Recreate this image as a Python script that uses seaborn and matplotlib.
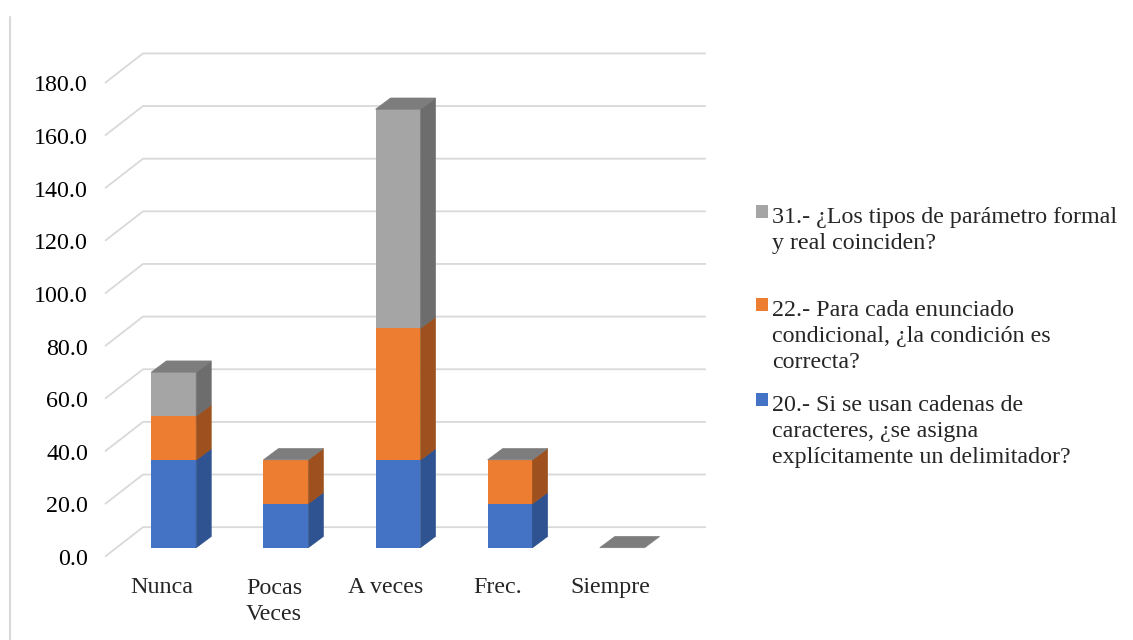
import numpy as np
import pandas as pd
import matplotlib
matplotlib.use("Agg")
import matplotlib.pyplot as plt
from matplotlib.patches import Polygon, Rectangle
from matplotlib.lines import Line2D
import seaborn as sns

# ---- data -------------------------------------------------------------
categories = ["Nunca", "Pocas\nVeces", "A veces", "Frec.", "Siempre"]
q20 = [33.3, 16.7, 33.3, 16.7, 0.0]
q22 = [16.7, 16.7, 50.0, 16.7, 0.0]
q31 = [16.7, 0.0, 83.3, 0.0, 0.0]
series_labels = [
    "20.- Si se usan cadenas de\ncaracteres, ¿se asigna\nexplícitamente un delimitador?",
    "22.- Para cada enunciado\ncondicional, ¿la condición es\ncorrecta?",
    "31.- ¿Los tipos de parámetro formal\ny real coinciden?",
]
y_ticks = np.arange(0, 181, 20)

# ---- style ------------------------------------------------------------
sns.set_style("white")
plt.rcParams["font.family"] = ["Liberation Serif", "DejaVu Serif"]
FS = 17.3
LINE_GAP = 26.5            # px between text lines
LS = 1.31

front_colors = ["#4472C4", "#ED7D31", "#A5A5A5"]
side_colors = ["#2E5390", "#9E511E", "#6D6D6D"]
top_color = "#7D7D7D"
grid_color = "#D9D9D9"

W, H = 1133, 640
fig = plt.figure(figsize=(W / 100, H / 100), dpi=100, facecolor="white")
ax = fig.add_axes([0, 0, 1, 1])

# pixel -> data mapping for the plot area
X0, XS = 173.8, 112.1      # px of first category, px per category
Y0, YS = 547.7, 2.632      # px of value 0, px per unit


def xd(px):
    return (px - X0) / XS


def yd(py):
    return (Y0 - py) / YS


def last_baseline(first_px, text):
    # baseline alignment of multi-line text refers to the last line
    return first_px + (text.count("\n")) * LINE_GAP


BAR_W = 0.40
DX = 15.0 / XS
DY = 11.2 / YS

# ---- floor / back-wall gridlines ----------------------------------------
x_front, x_back, x_right = xd(105), xd(143), xd(706)
y_front, y_back = -3.4, 7.8
for v in y_ticks:
    ax.plot([x_front, x_back, x_right], [v + y_front, v + y_back, v + y_back],
            color=grid_color, lw=1.3, zorder=1, solid_capstyle="butt")
    ax.text(xd(88), v - 6.6, f"{v:.1f}", ha="right", va="baseline",
            fontsize=FS, color="black")

# ---- stacked bars (front faces) ----------------------------------------
df = pd.DataFrame({"cat": categories, "q20": q20, "q22": q22, "q31": q31})
c1 = df["q20"].to_numpy()
c2 = c1 + df["q22"].to_numpy()
c3 = c2 + df["q31"].to_numpy()
cums = [c1, c2, c3]
bottoms = [np.zeros_like(c1), c1, c2]

for cum, col in reversed(list(zip(cums, front_colors))):
    sns.barplot(x=df["cat"], y=cum, color=col, width=BAR_W, saturation=1,
                errorbar=None, ax=ax, zorder=3, linewidth=0)

# ---- side and top faces -------------------------------------------------
for i in range(len(categories)):
    xr = i + BAR_W / 2
    xl = i - BAR_W / 2
    for s in range(3):
        y0, y1 = bottoms[s][i], cums[s][i]
        if y1 > y0:
            poly = Polygon([(xr, y0), (xr + DX, y0 + DY), (xr + DX, y1 + DY), (xr, y1)],
                           closed=True, facecolor=side_colors[s],
                           edgecolor=side_colors[s], lw=0.5, zorder=3)
            ax.add_patch(poly)
    top = c3[i]
    poly = Polygon([(xl, top), (xl + DX, top + DY), (xr + DX, top + DY), (xr, top)],
                   closed=True, facecolor=top_color, edgecolor=top_color,
                   lw=0.5, zorder=4)
    ax.add_patch(poly)

# ---- category labels -----------------------------------------------------
for i, cat in enumerate(categories):
    ax.text(i - 12 / XS, yd(last_baseline(593, cat)), cat, ha="center",
            va="baseline", fontsize=FS, linespacing=LS, multialignment="left")

ax.set_xlim(xd(0), xd(W))
ax.set_ylim(yd(H), yd(0))
ax.axis("off")

# ---- legend --------------------------------------------------------------
legend_rows = [
    (series_labels[2], front_colors[2], 222),
    (series_labels[1], front_colors[1], 315),
    (series_labels[0], front_colors[0], 410),
]
for label, col, base in legend_rows:
    sq_top = base - 17
    fig.add_artist(Rectangle((755.5 / W, 1 - (sq_top + 12.5) / H), 12.5 / W, 12.5 / H,
                             transform=fig.transFigure, facecolor=col,
                             edgecolor="none"))
    fig.text(772 / W, 1 - last_baseline(base, label) / H, label, ha="left",
             va="baseline", fontsize=FS, linespacing=LS)

# left border line
fig.add_artist(Line2D([10.5 / W, 10.5 / W], [0, 1 - 17 / H],
                      transform=fig.transFigure, color=grid_color, lw=1.5))

fig.savefig("out.png", dpi=100, facecolor="white")
